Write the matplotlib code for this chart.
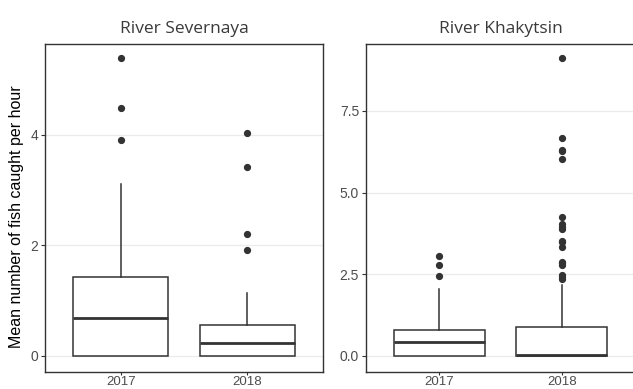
import numpy as np
import matplotlib
matplotlib.use('Agg')
import matplotlib.pyplot as plt

# summary stats per river and year (whisker low, Q1, median, Q3, whisker high)
years = ['2017', '2018']

sev_whislo = [0.0, 0.0]
sev_q1 = [0.0, 0.0]
sev_med = [0.69, 0.23]
sev_q3 = [1.42, 0.555]
sev_whishi = [3.11, 1.14]
sev_fliers = [[5.38, 4.49, 3.91], [4.03, 3.41, 2.21, 1.91]]

kha_whislo = [0.0, 0.0]
kha_q1 = [0.0, 0.0]
kha_med = [0.42, 0.03]
kha_q3 = [0.81, 0.88]
kha_whishi = [2.04, 2.17]
kha_fliers = [
    [3.07, 2.79, 2.46],
    [9.11, 6.68, 6.31, 6.27, 6.04, 4.26, 4.03, 3.96, 3.90, 3.52, 3.48,
     3.35, 2.89, 2.84, 2.78, 2.47, 2.41, 2.35],
]

sev_yticks = [0, 2, 4]
kha_yticks = [0.0, 2.5, 5.0, 7.5]

LINE = '#333333'
TICK = '#4d4d4d'


def make_stats(lo, q1, med, q3, hi, fliers):
    out = []
    for i in range(len(years)):
        out.append({'whislo': lo[i], 'q1': q1[i], 'med': med[i], 'q3': q3[i],
                    'whishi': hi[i], 'fliers': fliers[i], 'label': years[i]})
    return out


def draw_panel(ax, stats, title, yticks, ylim, ticklabels):
    ax.bxp(stats, positions=[1, 2], widths=0.75, patch_artist=True,
           showcaps=False,
           boxprops=dict(facecolor='white', edgecolor=LINE, linewidth=1.1),
           medianprops=dict(color=LINE, linewidth=2.0),
           whiskerprops=dict(color=LINE, linewidth=1.1),
           flierprops=dict(marker='o', markerfacecolor=LINE, markeredgecolor=LINE,
                           markersize=4.2))
    ax.set_xlim(0.4, 2.6)
    ax.set_ylim(*ylim)
    ax.set_yticks(yticks)
    ax.set_yticklabels(ticklabels)
    ax.set_xticks([1, 2])
    ax.set_xticklabels(years)
    ax.grid(axis='y', color='#ebebeb', linewidth=0.9)
    ax.set_axisbelow(True)
    for s in ax.spines.values():
        s.set_color(LINE)
        s.set_linewidth(1.0)
    ax.tick_params(length=3, width=0.8, color=LINE, labelcolor=TICK,
                   labelsize=10, pad=2)
    # keep the year labels inside the bottom edge
    ax.tick_params(axis='x', length=2.5, labelsize=9.5, pad=0.5)
    for lab in ax.get_xticklabels() + ax.get_yticklabels():
        lab.set_fontfamily('Liberation Sans')
    ax.set_title(title, fontsize=12.5, color='#3a3a3a', family='Open Sans',
                 pad=8)


fig = plt.figure(figsize=(6.33, 3.89), dpi=100)
W, H = 633.0, 389.0
ax1 = fig.add_axes([45 / W, 1 - 372 / H, 278 / W, 328 / H])
ax2 = fig.add_axes([366 / W, 1 - 372 / H, 269 / W, 328 / H])

draw_panel(ax1, make_stats(sev_whislo, sev_q1, sev_med, sev_q3, sev_whishi, sev_fliers),
           'River Severnaya', sev_yticks, (-0.29, 5.64), [str(t) for t in sev_yticks])
draw_panel(ax2, make_stats(kha_whislo, kha_q1, kha_med, kha_q3, kha_whishi, kha_fliers),
           'River Khakytsin', kha_yticks, (-0.49, 9.55), ['%.1f' % t for t in kha_yticks])

ax1.set_ylabel('Mean number of fish caught per hour', fontsize=11.5,
               family='Liberation Sans', color='black')
ax1.yaxis.set_label_coords(-0.075, 0.474)

fig.savefig('out.png', dpi=100)
